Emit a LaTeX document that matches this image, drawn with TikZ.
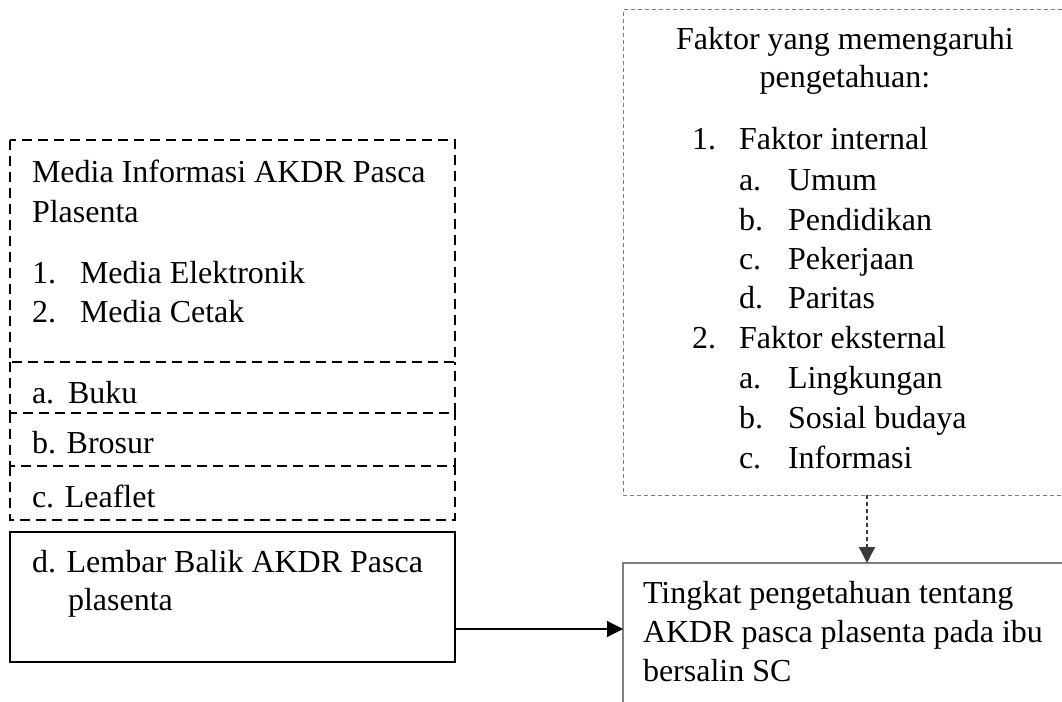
\documentclass[tikz,border=0pt]{standalone}
\usepackage{fontspec}
\setmainfont{Liberation Serif}
\usetikzlibrary{arrows.meta,calc}
\definecolor{boxgray}{HTML}{7F7F7F}
\definecolor{arrgray}{HTML}{3A3A3A}
\tikzset{
  area/.style={inner sep=0pt, outer sep=0pt, anchor=north west},
  dline/.style={draw=black, line width=2.1pt, dash pattern=on 10pt off 6pt},
  sbox/.style={draw=black, line width=2.2pt, inner sep=0pt, outer sep=0pt, anchor=north west},
  fbox/.style={draw=boxgray, line width=1pt, dash pattern=on 4pt off 3pt, inner sep=0pt, outer sep=0pt, anchor=north west},
  tbox/.style={draw=boxgray, line width=1.6pt, inner sep=0pt, outer sep=0pt, anchor=north west},
  txt/.style={anchor=base west, inner sep=0pt, outer sep=0pt, font=\fontsize{32}{40}\selectfont},
  ctxt/.style={anchor=base, inner sep=0pt, outer sep=0pt, font=\fontsize{32}{40}\selectfont},
  arr/.style={draw=black, line width=1.1pt, -{Triangle[length=16pt,width=16pt]}},
  darr/.style={draw=arrgray, line width=1.4pt, dash pattern=on 4pt off 3pt, -{Triangle[length=16pt,width=16pt]}},
}
\begin{document}
\begin{tikzpicture}[x=1pt,y=-1pt]
\useasboundingbox (0,0) rectangle (1062,701);
\clip (0,0) rectangle (1062,701);
\fill[white] (0,0) rectangle (1062,701);
% left boxes (areas), outlines drawn below
\node[area, minimum width=445pt, minimum height=222pt] (media) at (10,140) {};
\node[area, minimum width=445pt, minimum height=51pt] (buku) at (10,362) {};
\node[area, minimum width=445pt, minimum height=53pt] (brosur) at (10,413) {};
\node[area, minimum width=445pt, minimum height=54pt] (leaflet) at (10,466) {};
\draw[dline] (media.north west) rectangle (media.south east);
\draw[dline] (buku.north west) -- (buku.south west) -- (buku.south east) -- (buku.north east);
\draw[dline] (brosur.north west) -- (brosur.south west) -- (brosur.south east) -- (brosur.north east);
\draw[dline] (leaflet.north west) -- (leaflet.south west) -- (leaflet.south east) -- (leaflet.north east);
\node[sbox, minimum width=445pt, minimum height=130pt] (lembar) at (10,532) {};
% right boxes
\node[fbox, minimum width=460pt, minimum height=485pt] (faktor) at (623,10) {};
\node[tbox, minimum width=488pt, minimum height=200pt] (tingkat) at (623,563) {};
% left texts
\node[txt] (m1) at (32,182) {Media Informasi AKDR Pasca};
\node[txt] (m2) at (32,222) {Plasenta};
\node[txt] (n1) at (32,283) {1.};
\node[txt] (n1t) at (80,283) {Media Elektronik};
\node[txt] (n2) at (32,322) {2.};
\node[txt] (n2t) at (80,322) {Media Cetak};
\node[txt] (la) at (32,403) {a.};
\node[txt] (lat) at (68,403) {Buku};
\node[txt] (lb) at (32,453) {b. Brosur};
\node[txt] (lc) at (32,507) {c. Leaflet};
\node[txt] (ld) at (32,572) {d. Lembar Balik AKDR Pasca};
\node[txt] (ld2) at (68,610) {plasenta};
% right texts
\node[ctxt] (f1) at (845,49) {Faktor yang memengaruhi};
\node[ctxt] (f2) at (845,88) {pengetahuan:};
\node[txt] (i1) at (692,149) {1.};
\node[txt] (i1t) at (739,149) {Faktor internal};
\node[txt] (ia) at (739,190) {a.};
\node[txt] (iat) at (788,190) {Umum};
\node[txt] (ib) at (739,230) {b.};
\node[txt] (ibt) at (788,230) {Pendidikan};
\node[txt] (ic) at (739,269) {c.};
\node[txt] (ict) at (788,269) {Pekerjaan};
\node[txt] (id) at (739,308) {d.};
\node[txt] (idt) at (788,308) {Paritas};
\node[txt] (e2) at (692,348) {2.};
\node[txt] (e2t) at (739,348) {Faktor eksternal};
\node[txt] (ea) at (739,388) {a.};
\node[txt] (eat) at (788,388) {Lingkungan};
\node[txt] (eb) at (739,428) {b.};
\node[txt] (ebt) at (788,428) {Sosial budaya};
\node[txt] (ec) at (739,468) {c.};
\node[txt] (ect) at (788,468) {Informasi};
% bottom right texts
\node[txt] (t1) at (643,603) {Tingkat pengetahuan tentang};
\node[txt] (t2) at (643,642) {AKDR pasca plasenta pada ibu};
\node[txt] (t3) at (643,681) {bersalin SC};
% connectors
\draw[arr] ([yshift=33pt]lembar.south east) -- ([yshift=33pt]lembar.south east -| tingkat.west);
\draw[darr] (tingkat.north |- faktor.south) -- (tingkat.north);
\end{tikzpicture}
\end{document}
